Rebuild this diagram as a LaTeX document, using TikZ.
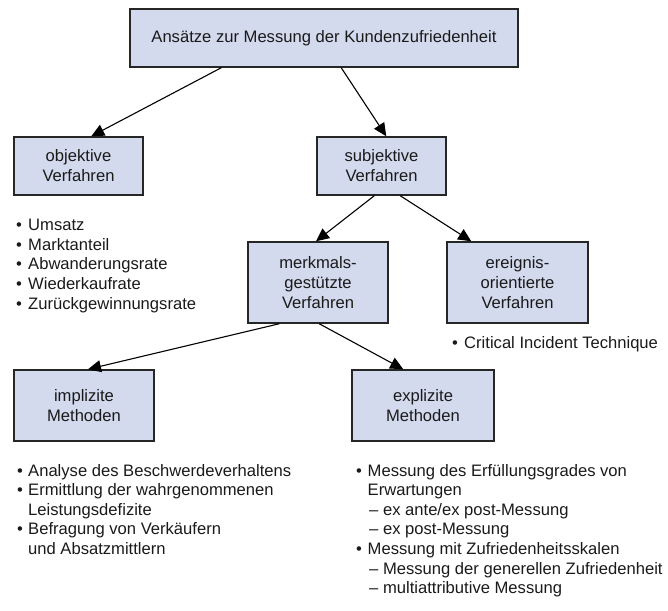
\documentclass[tikz,border=0pt]{standalone}
\usepackage{fontspec}
\setmainfont{Liberation Sans}
\usetikzlibrary{arrows.meta}
\definecolor{boxfill}{HTML}{D3DAEE}
\definecolor{txt}{HTML}{1A1A1A}
\begin{document}
\begin{tikzpicture}[x=1pt,y=-1pt,
  box/.style={draw=black!85, line width=1.5pt, fill=boxfill, text=txt, align=center,
    font=\fontsize{16.6}{20}\selectfont, inner sep=0pt},
  arr/.style={line width=1.1pt, -{Triangle[length=13pt,width=12pt]}},
  itm/.style={anchor=base west, inner sep=0pt, text=txt, font=\fontsize{16.6}{20}\selectfont}]
\useasboundingbox (0,0) rectangle (668,610);

\node[box, minimum width=388, minimum height=58] (top) at (324,38) {Ansätze zur Messung der Kundenzufriedenheit};
\node[box, minimum width=129, minimum height=58] (obj) at (78.5,166) {objektive\\Verfahren};
\node[box, minimum width=129, minimum height=58] (subj) at (381.5,166) {subjektive\\Verfahren};
\node[box, minimum width=140, minimum height=81] (merk) at (318,282.5) {merkmals-\\gestützte\\Verfahren};
\node[box, minimum width=141, minimum height=81] (ereig) at (517.5,282.5) {ereignis-\\orientierte\\Verfahren};
\node[box, minimum width=140, minimum height=71] (impl) at (84,405.5) {implizite\\Methoden};
\node[box, minimum width=142, minimum height=71] (expl) at (423,405.5) {explizite\\Methoden};

\draw[arr] ([xshift=92]top.south west) -- ([xshift=78]obj.north west);
\draw[arr] ([xshift=212]top.south west) -- ([xshift=70]subj.north west);
\draw[arr] ([xshift=58]subj.south west) -- ([xshift=-2]merk.north);
\draw[arr] ([xshift=84]subj.south west) -- ([xshift=25]ereig.north west);
\draw[arr] ([xshift=32]merk.south west) -- ([xshift=4]impl.north);
\draw[arr] ([xshift=72]merk.south west) -- ([xshift=52]expl.north west);

% objektive list
\node[itm] (ob1) at (16,230.5) {•};
\node[itm] (ot1) at (28,230.5) {Umsatz};
\node[itm] (ob2) at (16,250.2) {•};
\node[itm] (ot2) at (28,250.2) {Marktanteil};
\node[itm] (ob3) at (16,269.9) {•};
\node[itm] (ot3) at (28,269.9) {Abwanderungsrate};
\node[itm] (ob4) at (16,289.6) {•};
\node[itm] (ot4) at (28,289.6) {Wiederkaufrate};
\node[itm] (ob5) at (16,309.3) {•};
\node[itm] (ot5) at (28,309.3) {Zurückgewinnungsrate};

% ereignis list
\node[itm] (eb1) at (452,348.5) {•};
\node[itm] (et1) at (464,348.5) {Critical Incident Technique};

% implizite list
\node[itm] (ib1) at (17,476) {•};
\node[itm] (it1) at (28,476) {Analyse des Beschwerdeverhaltens};
\node[itm] (ib2) at (17,495.6) {•};
\node[itm] (it2) at (28,495.6) {Ermittlung der wahrgenommenen};
\node[itm] (it3) at (28,515.2) {Leistungsdefizite};
\node[itm] (ib4) at (17,534.8) {•};
\node[itm] (it4) at (28,534.8) {Befragung von Verkäufern};
\node[itm] (it5) at (28,554.4) {und Absatzmittlern};

% explizite list
\node[itm] (xb1) at (356,476) {•};
\node[itm] (xt1) at (367.5,476) {Messung des Erfüllungsgrades von};
\node[itm] (xt2) at (367.5,495.6) {Erwartungen};
\node[itm] (xt3) at (369,515.2) {– ex ante/ex post-Messung};
\node[itm] (xt4) at (369,534.8) {– ex post-Messung};
\node[itm] (xb5) at (356,554.4) {•};
\node[itm] (xt5) at (367.5,554.4) {Messung mit Zufriedenheitsskalen};
\node[itm] (xt6) at (369,574) {– Messung der generellen Zufriedenheit};
\node[itm] (xt7) at (369,593.6) {– multiattributive Messung};
\end{tikzpicture}
\end{document}
